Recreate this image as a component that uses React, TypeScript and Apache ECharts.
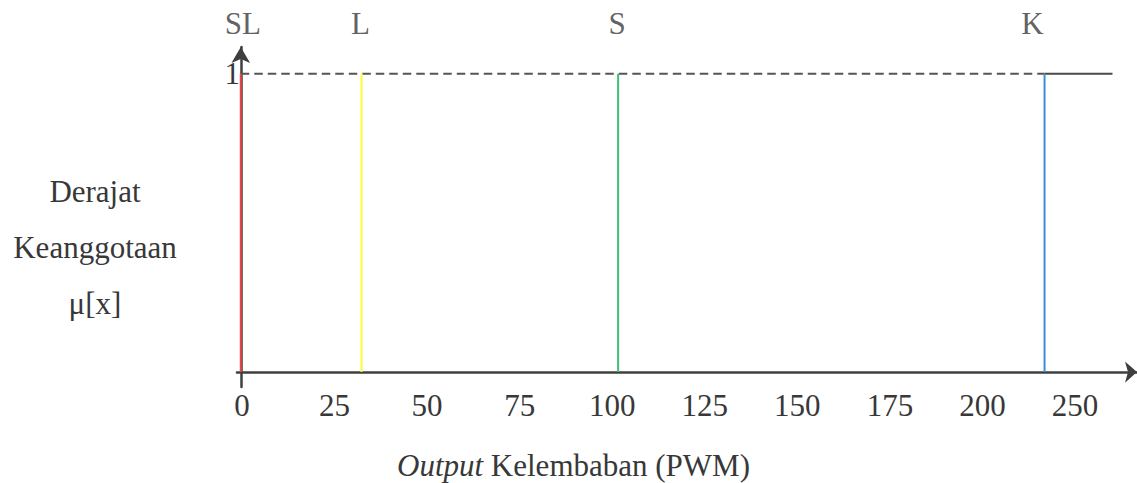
import React, { useEffect, useRef } from "react";
import * as echarts from "echarts";

// ---- data ----
const setNames = ["SL", "L", "S", "K"];
const setValues = [0, 32, 100, 213];
const membership = [1, 1, 1, 1];
const plateauEnd = 231;
const tickLabels = ["0", "25", "50", "75", "100", "125", "150", "175", "200", "250"];
const yTitleLines = ["Derajat", "Keanggotaan", "μ[x]"];
const xTitleItalic = "Output";
const xTitleRest = "Kelembaban (PWM)";

// ---- styles ----
const FONT = "'Liberation Serif', 'Times New Roman', serif";
const TEXT = "#383838";
const AXIS = "#3f3f3f";
const setColors = ["#f04545", "#fafa3c", "#3fbf70", "#3b8fd6"];
const labelOffsets = [[2, 0], [-1, 0], [-1, 0], [-12, 0]];

export default function App() {
  const ref = useRef<HTMLDivElement>(null);

  useEffect(() => {
    if (!ref.current) return;
    const chart = echarts.init(ref.current, undefined, { renderer: "svg" });

    const singletonSeries = setValues.map((v, i) => ({
      type: "line",
      name: setNames[i],
      xAxisIndex: 0,
      yAxisIndex: 0,
      data: [[v, 0], [v, membership[i]]],
      symbol: "none",
      lineStyle: { color: setColors[i], width: 2 },
      z: 5,
    }));

    const kIndex = setValues.length - 1;

    const option: any = {
      animation: false,
      backgroundColor: "#ffffff",
      grid: [
        { left: 237, right: 0, top: 47, bottom: 96 },
        { left: 242, right: 62, top: 47, bottom: 111 },
      ],
      xAxis: [
        {
          type: "value",
          gridIndex: 0,
          min: -1,
          max: 237.5,
          axisLine: {
            show: true,
            onZero: true,
            lineStyle: { color: AXIS, width: 2.5 },
            symbol: ["none", "arrow"],
            symbolSize: [16, 12],
          },
          axisTick: { show: false },
          axisLabel: { show: false },
          splitLine: { show: false },
        },
        {
          type: "category",
          gridIndex: 1,
          boundaryGap: false,
          data: tickLabels,
          axisLine: { show: false, onZero: false },
          axisTick: { show: false },
          splitLine: { show: false },
          axisLabel: {
            show: true,
            interval: 0,
            margin: 18,
            color: TEXT,
            fontFamily: FONT,
            fontSize: 31,
          },
        },
      ],
      yAxis: [
        {
          type: "value",
          gridIndex: 0,
          min: -0.05,
          max: 1.09,
          interval: 0.05,
          axisLine: {
            show: true,
            onZero: true,
            lineStyle: { color: AXIS, width: 2.5 },
            symbol: ["none", "arrow"],
            symbolSize: [14, 16],
          },
          axisTick: { show: false },
          splitLine: { show: false },
          axisLabel: {
            show: true,
            margin: -3,
            color: TEXT,
            fontFamily: FONT,
            fontSize: 31,
            padding: [16, 0, 0, 0],
            formatter: (v: number) => (Math.abs(v - 1) < 1e-6 ? "1" : ""),
          },
        },
        { type: "value", gridIndex: 1, show: false, min: 0, max: 1 },
      ],
      series: [
        {
          type: "line",
          name: "dashed",
          data: [[setValues[0], 1], [setValues[kIndex], 1]],
          symbol: "none",
          lineStyle: { color: "#555555", width: 2, type: [8.5, 5] },
          z: 3,
        },
        {
          type: "line",
          name: "plateau",
          data: [[setValues[kIndex], 1], [plateauEnd, 1]],
          symbol: "none",
          lineStyle: { color: "#4a4a4a", width: 2 },
          z: 3,
        },
        ...singletonSeries,
        {
          type: "scatter",
          name: "labels",
          symbolSize: 0,
          data: setValues.map((v, i) => ({
            value: [v, membership[i]],
            name: setNames[i],
            label: { offset: labelOffsets[i] },
          })),
          label: {
            show: true,
            position: "top",
            distance: 35,
            formatter: (p: any) => p.name,
            color: TEXT,
            fontFamily: FONT,
            fontSize: 31,
          },
          z: 6,
        },
      ],
      graphic: [
        {
          type: "text",
          x: 95,
          y: 247,
          style: {
            text: yTitleLines.join("\n"),
            align: "center",
            verticalAlign: "middle",
            lineHeight: 56,
            fill: TEXT,
            fontFamily: FONT,
            fontSize: 31,
          },
        },
        {
          type: "text",
          x: 397,
          y: 465,
          style: {
            text: `{i|${xTitleItalic}} ${xTitleRest}`,
            align: "left",
            verticalAlign: "middle",
            fill: TEXT,
            fontFamily: FONT,
            fontSize: 31,
            rich: {
              i: { fontStyle: "italic", fontFamily: FONT, fontSize: 31, fill: TEXT },
            },
          },
        },
      ],
    };

    chart.setOption(option);
    return () => chart.dispose();
  }, []);

  return (
    <div
      ref={ref}
      style={{ position: "absolute", left: 0, top: 0, width: 1137, height: 483 }}
    />
  );
}
